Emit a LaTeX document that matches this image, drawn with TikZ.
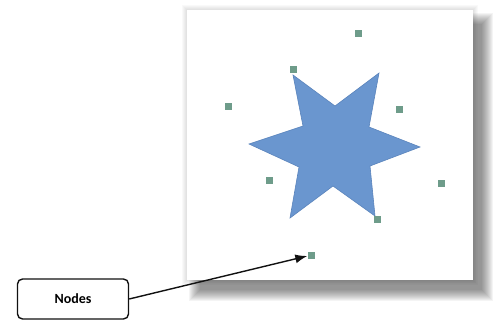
\documentclass[tikz,border=0pt]{standalone}
\usepackage{fontspec}
\setmainfont{Carlito}
\usetikzlibrary{arrows.meta, positioning}
\definecolor{cstar}{HTML}{6A96CF}
\definecolor{cstarline}{HTML}{5A84BC}
\definecolor{chandle}{HTML}{6E9C8A}
\definecolor{cline}{HTML}{111111}

\begin{document}
\begin{tikzpicture}[
  x=1pt, y=-1pt,
  >={Latex[length=12pt, width=9pt]},
  handle/.style={fill=chandle, inner sep=0pt, minimum size=7pt},
  label/.style={draw=cline, line width=1.4pt, rounded corners=5pt, fill=white,
                minimum width=111pt, minimum height=40pt,
                font=\fontsize{14}{16}\selectfont\bfseries},
  arr/.style={->, line width=1.4pt, draw=cline},
  ]
\useasboundingbox (0,0) rectangle (498,320);

% soft shadow behind the slide
\foreach \i in {1,...,5}
  \fill[black, opacity=0.025] (187-\i,10-\i) rectangle (473+\i,280+\i);
\foreach \i in {0,...,11}
  \fill[black, opacity=0.045] (200-\i,24-\i) rectangle (482+\i,290+\i);
\fill[white] (187,10) rectangle (473,280);

% the star
\filldraw[fill=cstar, draw=cstarline, line width=0.6pt]
  (293,75) -- (335,106) -- (379,73) -- (369,127) -- (420,147) -- (370,166)
  -- (375,216) -- (333,186) -- (290,218) -- (299,167) -- (249,144)
  -- (303,126) -- cycle;

% handles
\node[handle] (h1) at (358,34) {};
\node[handle] (h2) at (293,70) {};
\node[handle] (h3) at (228,107) {};
\node[handle] (h4) at (399,110) {};
\node[handle] (h5) at (269,181) {};
\node[handle] (h6) at (441,184) {};
\node[handle] (h7) at (377,220) {};
\node[handle] (h8) at (311,256) {};

\node[label] (nodes) at (73,299) {Nodes};
\draw[arr] (nodes.east) -- (h8.west);
\end{tikzpicture}
\end{document}
